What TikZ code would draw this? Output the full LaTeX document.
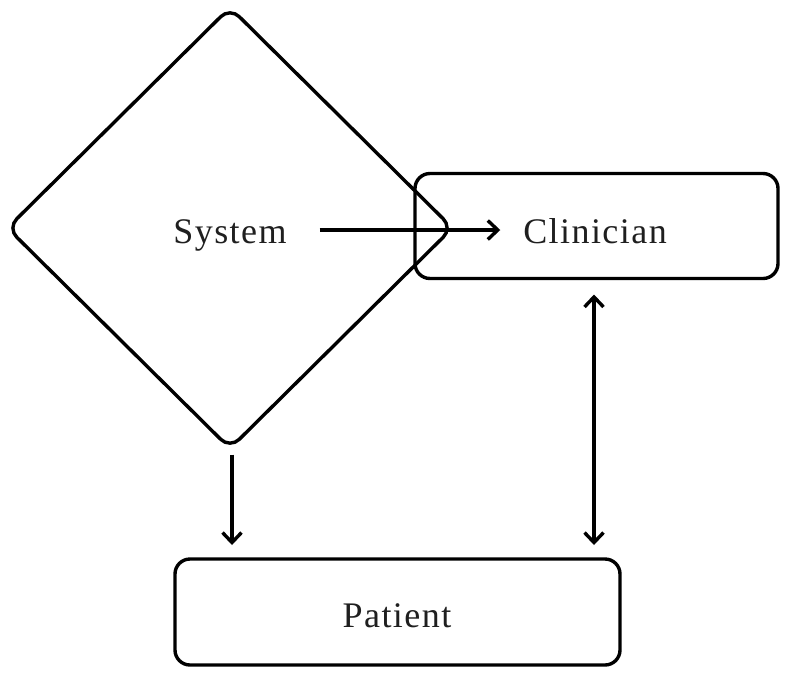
\documentclass[tikz,border=0pt]{standalone}
\usepackage{fontspec}
\setmainfont{Liberation Serif}[LetterSpace=4]
\usetikzlibrary{shapes.geometric,arrows.meta}
\begin{document}
\begin{tikzpicture}[x=1pt,y=-1pt,
  shapeline/.style={draw=black,line width=3.4pt,outer sep=0pt,inner sep=0pt},
  roundbox/.style={shapeline,rectangle,rounded corners=15pt},
  lbl/.style={inner sep=0pt,outer sep=0pt,anchor=base,font=\fontsize{36}{42}\selectfont,text=black!88},
  arr/.style={line width=3.4pt,-{Straight Barb[length=10pt,width=19pt]}},
  darr/.style={line width=3.4pt,{Straight Barb[length=10pt,width=19pt]}-{Straight Barb[length=10pt,width=19pt]}}]
\useasboundingbox[fill=white] (0,0) rectangle (800,689);
\node[shapeline,diamond,rounded corners=13pt,minimum width=445pt,minimum height=441pt] (sys) at (230,228) {};
\node[roundbox,minimum width=363pt,minimum height=105pt] (clin) at (596.5,226) {};
\node[roundbox,minimum width=445pt,minimum height=106pt] (pat) at (397.5,612) {};
\node[lbl] (systxt) at (230,243) {System};
\node[lbl] (clintxt) at (595,243) {Clinician};
\node[lbl] (pattxt) at (397,627) {Patient};
\draw[arr,shorten <=33pt,shorten >=23pt] (systxt.east |- 0,230) coordinate (a1) -- (clintxt.west |- a1);
\draw[arr,shorten <=6pt,shorten >=14pt] ([xshift=2pt]sys.south) -- ([xshift=2pt]sys.south |- pat.north);
\draw[darr,shorten <=16pt,shorten >=14pt] ([xshift=-2.5pt]clin.south) -- ([xshift=-2.5pt]clin.south |- pat.north);
\end{tikzpicture}
\end{document}
